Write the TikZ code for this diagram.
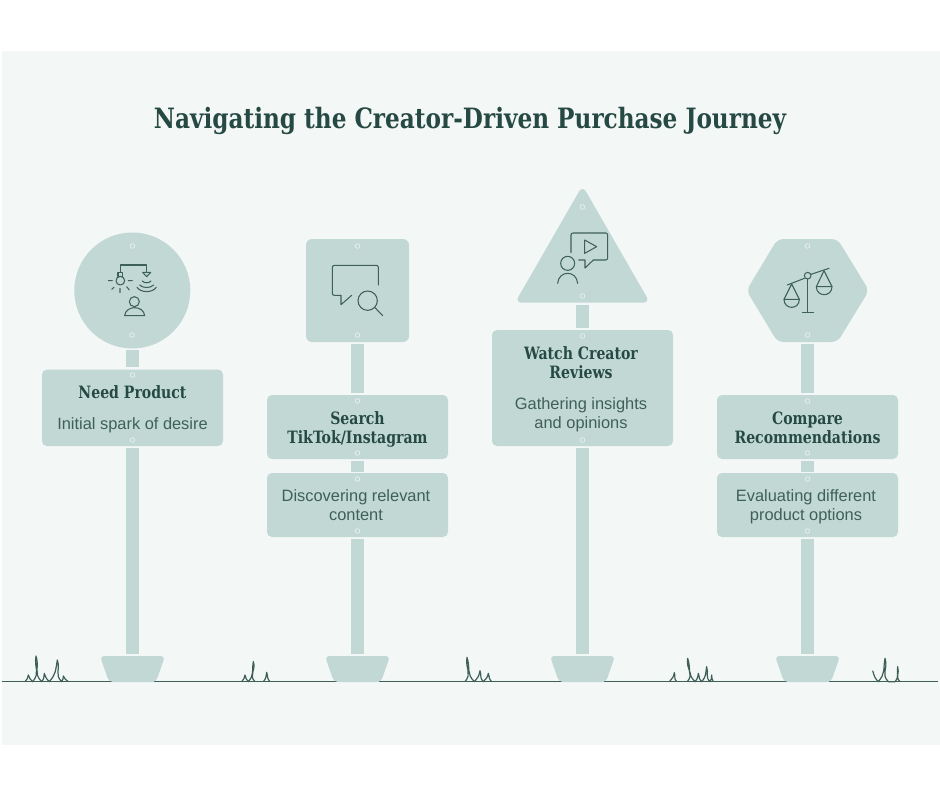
\documentclass[tikz,border=0pt]{standalone}
\usepackage{fontspec}
\setmainfont{Liberation Sans}
\newfontfamily\slabfont[FakeStretch=0.92]{DejaVu Serif Condensed Bold}
\definecolor{pagebg}{HTML}{F3F7F6}
\definecolor{sign}{HTML}{C2D8D4}
\definecolor{ink}{HTML}{264A43}
\definecolor{soft}{HTML}{3F5F59}
\definecolor{holeline}{HTML}{E6EFED}
\tikzset{
  x=1pt,y=-1pt,
  signfill/.style={fill=sign,draw=none},
  signbox/.style={signfill,rounded corners=5pt,minimum width=181pt,inner sep=0pt,outer sep=0pt},
  hole/.style={circle,fill=sign,draw=holeline,line width=.8pt,minimum size=4.6pt,inner sep=0pt},
  head/.style={font=\slabfont\fontsize{17}{19}\selectfont,text=ink,align=center,inner sep=0pt},
  body/.style={font=\fontsize{16.4}{19}\selectfont,text=soft,align=center,inner sep=0pt},
  icon/.style={draw=soft,line width=1.05pt,line join=round,line cap=round,fill=none},
  grass/.style={draw=soft,line width=1.2pt,line join=round,fill=none},
  gup/.style={out=50,in=-100,looseness=1.2},
  gdn/.style={out=-72,in=135,looseness=1.2},
}
\newcommand{\postat}[3]{\fill[sign] (#1-6.3,#2) rectangle (#1+6.3,#3);}
\newcommand{\baseat}[1]{\fill[sign,rounded corners=4pt] (#1-32.5,656) -- (#1+32.5,656) -- (#1+23.5,682) -- (#1-23.5,682) -- cycle;
  \fill[sign] (#1-21,676) rectangle (#1+21,682);}
\begin{document}
\begin{tikzpicture}
\useasboundingbox (0,0) rectangle (940,788);
\fill[white] (0,0) rectangle (940,788);
\fill[pagebg] (2,51) rectangle (940,745);

\node[font=\slabfont\fontsize{28}{32}\selectfont,text=ink,inner sep=0pt] (title) at (470,121) {Navigating the Creator-Driven Purchase Journey};

% ground
\draw[draw=soft,line width=1.25pt] (2,681.7) -- (938,681.7);
\begin{scope}[shift={(0,640)},scale=1/3]
\draw[grass] (75,125) to[gup] (85,105) to[gdn] (98,125) to[gup] (108,48) to[gdn] (125,125) to[gup] (133,100) to[gdn] (148,125) to[gup] (172,60) to[gdn] (185,125) to[gup] (190,108) to[gdn] (205,125);
\draw[grass] (725,125) to[gup] (735,105) to[gdn] (745,125) to[gup] (760,65) to[gdn] (765,125);
\draw[grass] (790,125) to[gup] (800,97) to[gdn] (810,125);
\end{scope}
\begin{scope}[shift={(320,640)},scale=1/3]
\draw[grass] (435,125) to[gup] (441,52) to[gdn] (463,125) to[gup] (480,92) to[gdn] (490,125) to[gup] (505,100) to[gdn] (515,125);
\end{scope}
\begin{scope}[shift={(630,640)},scale=1/3]
\draw[grass] (118,125) to[gup] (133,98) to[gdn] (140,125);
\draw[grass] (172,125) to[gup] (173,55) to[gdn] (195,125) to[gup] (205,100) to[gdn] (215,125) to[gup] (230,80) to[gdn] (240,125) to[gup] (245,105) to[gdn] (250,125);
\draw[grass] (728,92) to[gdn] (745,125) to[gup] (765,55) to[gdn] (775,125) -- (795,125) to[gup] (803,80) to[gdn] (810,125);
\end{scope}

% posts and bases
\postat{132.5}{350}{367}\postat{132.5}{448}{654}
\postat{357.5}{344}{393}\postat{357.5}{461}{471.5}\postat{357.5}{539}{654}
\postat{582.5}{305}{328}\postat{582.5}{448}{654}
\postat{807.5}{344}{393}\postat{807.5}{461}{471.5}\postat{807.5}{539}{654}
\baseat{132.5}\baseat{357.5}\baseat{582.5}\baseat{807.5}

% sign heads
\fill[sign] (132.3,290.5) circle [radius=58];
\fill[sign,rounded corners=6pt] (306,239) rectangle (409,342);
\fill[sign,rounded corners=7pt] (582.5,185.5) -- (650,302.7) -- (515,302.7) -- cycle;
\fill[sign,rounded corners=6pt] (777.5,239) -- (837.5,239) -- (869,290.5) -- (837.5,342) -- (777.5,342) -- (746.5,290.5) -- cycle;

% boxes
\node[signbox,minimum height=76.5pt] (b1) at (132.5,407.8) {};
\node[signbox,minimum height=64pt] (b2a) at (357.5,427) {};
\node[signbox,minimum height=64pt] (b2b) at (357.5,505) {};
\node[signbox,minimum height=116pt] (b3) at (582.5,388) {};
\node[signbox,minimum height=64pt] (b4a) at (807.5,427) {};
\node[signbox,minimum height=64pt] (b4b) at (807.5,505) {};

% holes
\foreach \px/\py in {132.5/246,132/335,132.5/375,132.5/440,
  357.5/246,357.5/335,357.5/401,357.5/453,357.5/479,357.5/531,
  582.5/207,582.5/296,582.5/336,582.5/440,
  807.5/246,807.5/335,807.5/401,807.5/453,807.5/479,807.5/531}
  \node[hole] at (\px,\py) {};

% text
\node[head] (t1) at (132.5,392) {Need Product};
\node[body] (d1) at (132.5,425) {Initial spark of desire};
\node[head] (t2) at (357.5,429.5) {Search\\TikTok/Instagram};
\node[body] (d2) at (356,505) {Discovering relevant\\content};
\node[head] (t3) at (581,362.5) {Watch Creator\\Reviews};
\node[body] (d3) at (581,415) {Gathering insights\\and opinions};
\node[head] (t4) at (807.5,427.5) {Compare\\Recommendations};
\node[body] (d4) at (806,506.5) {Evaluating different\\product options};

% icon 1
\begin{scope}[shift={(30,220)},scale=1/3]
\draw[icon] (271,157) -- (271,135) -- (350,135) -- (350,157);
\draw[icon] (271,182) circle [radius=13];
\draw[icon] (264,157) rectangle (278,170);
\draw[icon] (235,182) -- (247,182) (295,182) -- (307,182) (245,208) -- (252,202) (270,205) -- (270,218) (298,210) -- (290,200);
\draw[icon] (338,157) -- (362,157) -- (350,170) -- cycle;
\draw[icon] (337,183) .. controls (342,190) and (358,190) .. (363,183);
\draw[icon] (329,195) .. controls (338,205) and (362,205) .. (371,195);
\draw[icon] (321,202) .. controls (333,219) and (367,219) .. (379,202);
\draw[icon] (313,245) circle [radius=15];
\draw[icon] (284,287) .. controls (287,255) and (341,255) .. (344,287) -- cycle;
\end{scope}

% icon 2
\begin{scope}[shift={(260,230)},scale=1/3]
\draw[icon,rounded corners=2pt] (355,165) -- (355,106) -- (217,106) -- (217,196) -- (243,196);
\draw[icon] (243,196) -- (243,224) -- (275,196);
\draw[icon] (323,212) circle [radius=29];
\draw[icon] (345,233) -- (368,257);
\end{scope}

% icon 3
\begin{scope}[shift={(490,180)},scale=1/3]
\draw[icon,rounded corners=2pt] (243,218) -- (243,159) -- (353,159) -- (353,240) -- (310,240);
\draw[icon] (310,240) -- (285,264) -- (285,240) -- (266,240);
\draw[icon] (284,180) -- (320,200) -- (284,220) -- cycle;
\draw[icon] (233,250) circle [radius=21];
\draw[icon] (203,310) .. controls (206,270) and (260,270) .. (263,310);
\end{scope}

% icon 4
\begin{scope}[shift={(710,230)},scale=1/3]
\draw[icon] (232,165) -- (283,145) (303,133) -- (357,115);
\draw[icon] (293,137) circle [radius=10];
\draw[icon] (293,147) -- (293,247) (277,247) -- (311,247);
\draw[icon] (222,208) -- (245,162) -- (268,208) -- cycle;
\draw[icon] (222,208) .. controls (222,240) and (268,240) .. (268,208);
\draw[icon] (319,170) -- (342,122) -- (366,170) -- cycle;
\draw[icon] (319,170) .. controls (319,202) and (366,202) .. (366,170);
\end{scope}
\end{tikzpicture}
\end{document}
